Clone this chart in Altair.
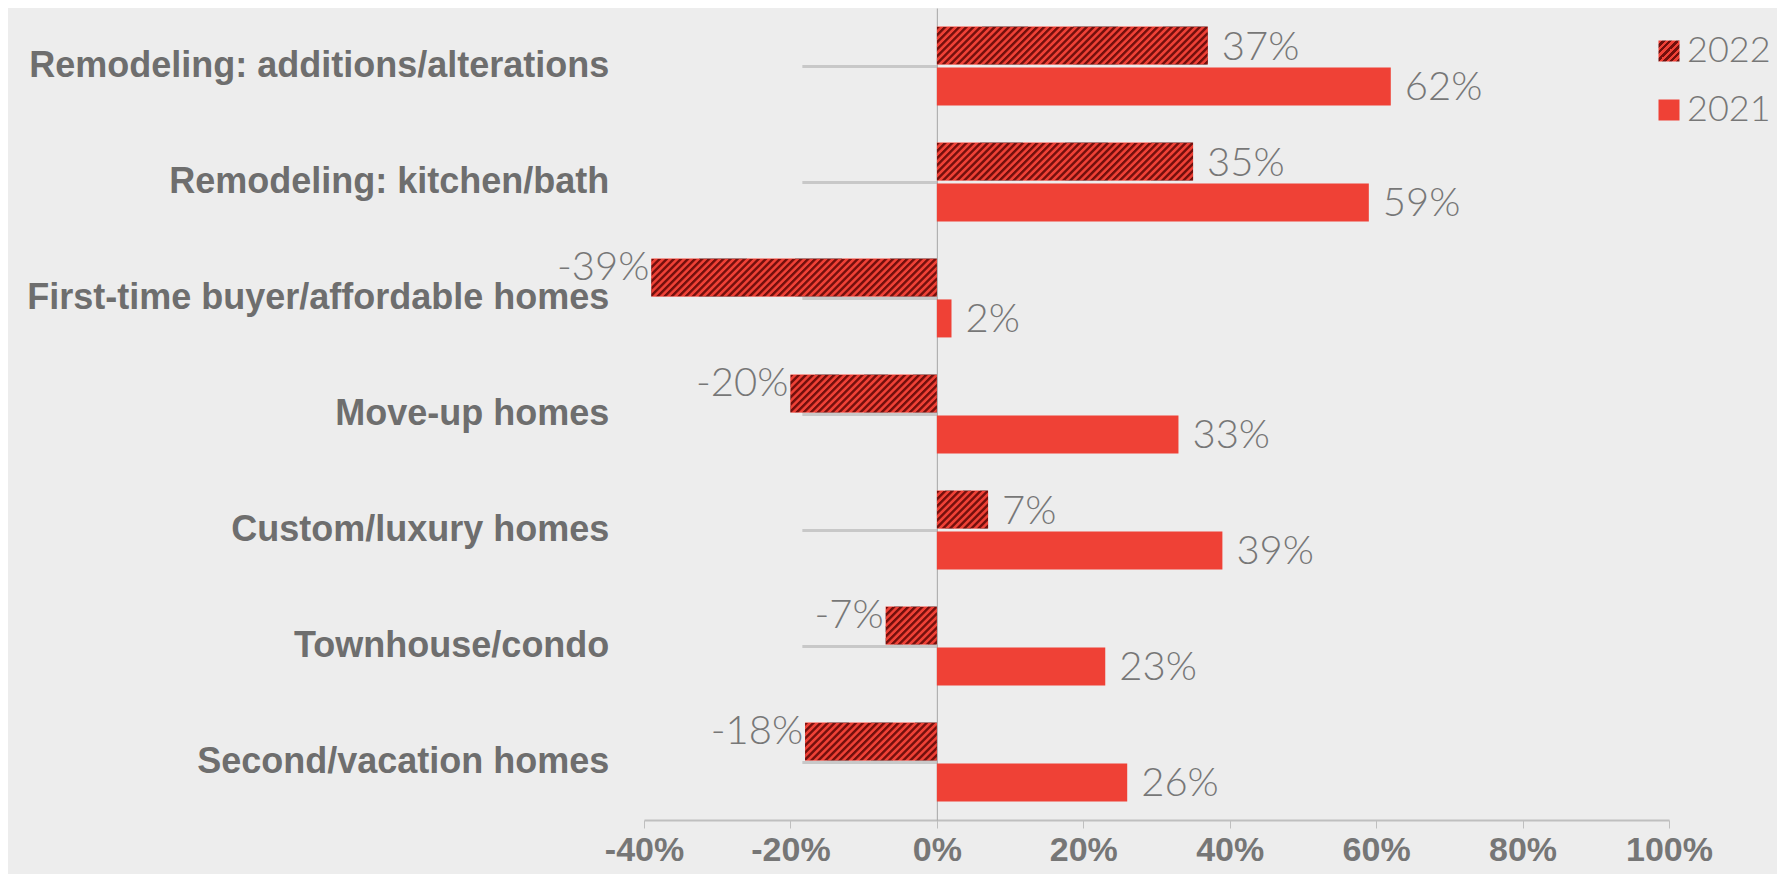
import base64
import altair as alt
import pandas as pd

categories = [
    "Remodeling: additions/alterations",
    "Remodeling: kitchen/bath",
    "First-time buyer/affordable homes",
    "Move-up homes",
    "Custom/luxury homes",
    "Townhouse/condo",
    "Second/vacation homes",
]
series = ["2022", "2021"]
values_2022 = [37, 35, -39, -20, 7, -7, -18]
values_2021 = [62, 59, 2, 33, 39, 23, 26]
x_ticks = [-40, -20, 0, 20, 40, 60, 80, 100]

RED = "#EF4136"
DARK = "#720F0C"
NUM_GREY = "#777777"
CAT_GREY = "#6E6E6E"

rows = []
for c, a, b in zip(categories, values_2022, values_2021):
    rows.append({"category": c, "year": "2022", "value": a})
    rows.append({"category": c, "year": "2021", "value": b})
df = pd.DataFrame(rows)
df["label"] = df["value"].astype(str) + "%"

W, H = 1025, 812
x_min, x_max = x_ticks[0], x_ticks[-1]
y_axis_offset = -W * (0 - x_min) / (x_max - x_min)

# hatch pattern drawn at 1:1 inside each 2022 bar
stripe_svg = (
    '<svg xmlns="http://www.w3.org/2000/svg" width="100%" height="100%">'
    '<defs><pattern id="h" width="5" height="5" patternUnits="userSpaceOnUse" '
    'patternTransform="rotate(45)">'
    f'<rect width="5" height="5" fill="{RED}"/><rect width="2.4" height="5" fill="{DARK}"/>'
    '</pattern></defs><rect width="100%" height="100%" fill="url(#h)"/></svg>'
)
stripe_url = "data:image/svg+xml;base64," + base64.b64encode(stripe_svg.encode("utf-8")).decode("ascii")

# striped gradient for the legend swatch
n = 6
stops = []
for k in range(n):
    a, m, b = k / n, (k + 0.5) / n, (k + 1) / n
    stops += [
        f"{{offset:{a:.4f},color:'{RED}'}}",
        f"{{offset:{m:.4f},color:'{RED}'}}",
        f"{{offset:{m:.4f},color:'{DARK}'}}",
        f"{{offset:{b:.4f},color:'{DARK}'}}",
    ]
legend_gradient = "{gradient:'linear',x1:0,y1:0,x2:1,y2:1,stops:[" + ",".join(stops) + "]}"

x_enc = alt.X(
    "value:Q",
    stack=None,
    scale=alt.Scale(domain=[x_min, x_max], nice=False, zero=False),
    axis=alt.Axis(
        values=x_ticks, labelExpr="datum.value + '%'", title=None, grid=False,
        labelFlush=False, labelOverlap=False,
        domainColor="#BFBFBF", domainWidth=2, tickColor="#BFBFBF", tickWidth=1, tickSize=8,
        labelFont="Liberation Sans", labelFontWeight="bold", labelFontSize=34,
        labelColor="#767676", labelPadding=5,
    ),
)
y_enc = alt.Y(
    "category:N", sort=categories, title=None,
    scale=alt.Scale(paddingInner=0.32, paddingOuter=0.16),
    axis=alt.Axis(
        offset=y_axis_offset, grid=False,
        domainColor="#A6A6A6", domainWidth=1, tickColor="#C8C8C8", tickWidth=3, tickSize=135,
        labelPadding=193, labelLimit=1000, maxExtent=1000,
        labelFont="Liberation Sans", labelFontWeight="bold", labelFontSize=36, labelColor=CAT_GREY,
    ),
)
yoff_enc = alt.YOffset("year:N", sort=series, scale=alt.Scale(domain=series, paddingInner=0.07, paddingOuter=0))
color_enc = alt.Color(
    "year:N", sort=series,
    scale=alt.Scale(domain=series, range=[alt.ExprRef(expr=legend_gradient), RED]),
    legend=alt.Legend(
        orient="none", legendX=1007, legendY=25, title=None,
        symbolType="square", symbolSize=441, symbolStrokeWidth=0, symbolOpacity=1,
        labelFont="Lato", labelFontWeight=300, labelFontSize=36, labelColor=NUM_GREY,
        labelOffset=0, rowPadding=23, padding=0,
    ),
)

base = alt.Chart(df)
bars = base.mark_bar().encode(x=x_enc, y=y_enc, yOffset=yoff_enc, color=color_enc)
hatch = base.transform_filter("datum.year == '2022'").mark_image(aspect=False).encode(
    x=x_enc, x2=alt.datum(0), y=y_enc, yOffset=yoff_enc, url=alt.value(stripe_url)
)


def text_layer(cond, align, dx, dy):
    return base.transform_filter(cond).mark_text(
        align=align, baseline="middle", dx=dx, dy=dy,
        font="Lato", fontWeight=300, fontSize=40, color=NUM_GREY,
    ).encode(x=x_enc, y=y_enc, yOffset=yoff_enc, text="label:N")


labels = [
    text_layer("datum.year == '2022' && datum.value >= 0", "left", 14, 2),
    text_layer("datum.year == '2022' && datum.value < 0", "right", -2, -10),
    text_layer("datum.year == '2021' && datum.value >= 0", "left", 14, 2),
    text_layer("datum.year == '2021' && datum.value < 0", "right", -2, 2),
]

chart = alt.layer(bars, hatch, *labels).properties(
    width=W, height=H, background="#EDEDED",
    padding={"left": 636, "top": 0, "right": 108, "bottom": 54},
    autosize=alt.AutoSizeParams(type="none"),
).configure_view(stroke=None)

chart.save("out.html", embed_options={"renderer": "svg", "actions": False})
